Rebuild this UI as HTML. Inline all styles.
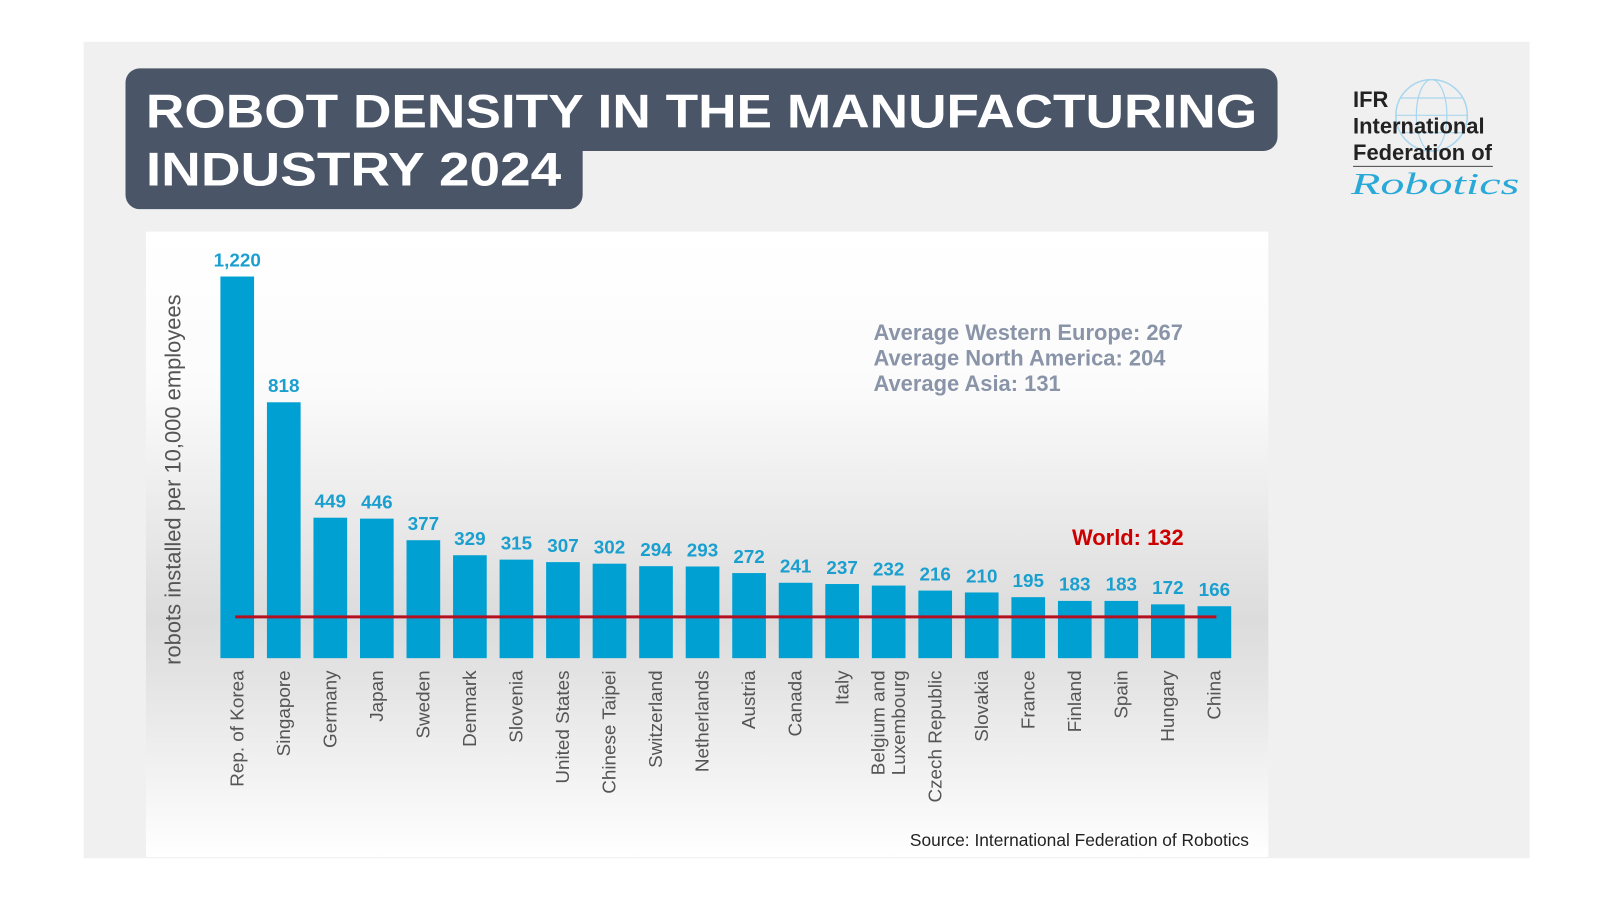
<!DOCTYPE html>
<html><head><meta charset="utf-8"><style>
body{margin:0;background:#fff;overflow:hidden;}
svg{display:block;font-family:"Liberation Sans",Arial,sans-serif;}
</style></head><body>
<svg width="1600" height="900" viewBox="0 0 1600 900">
<defs>
<linearGradient id="pg" x1="0" y1="0" x2="0" y2="1">
<stop offset="0" stop-color="#ffffff"/><stop offset="0.25" stop-color="#fbfbfb"/><stop offset="0.62" stop-color="#dcdcdc"/><stop offset="0.72" stop-color="#e4e4e4"/><stop offset="1" stop-color="#ffffff"/>
</linearGradient>
</defs>
<g transform="scale(1.0204)">
<rect x="82" y="41" width="1417" height="800" fill="#f0f0f0"/>
<g>
<rect x="123" y="67" width="1129" height="81" rx="14" fill="#4a5568"/>
<rect x="123" y="120" width="448" height="85" rx="14" fill="#4a5568"/>
<text x="143" y="125" font-size="46" font-weight="bold" fill="#fff" textLength="1089" lengthAdjust="spacingAndGlyphs">ROBOT DENSITY IN THE MANUFACTURING</text>
<text x="143" y="182" font-size="46" font-weight="bold" fill="#fff" textLength="407" lengthAdjust="spacingAndGlyphs">INDUSTRY 2024</text>
</g>
<g>
<circle cx="1403" cy="113" r="35" fill="none" stroke="#a9d6ee" stroke-width="1.5"/>
<ellipse cx="1403" cy="113" rx="15" ry="35" fill="none" stroke="#a9d6ee" stroke-width="1.2"/>
<line x1="1368" y1="113" x2="1438" y2="113" stroke="#a9d6ee" stroke-width="1.2"/>
<line x1="1372" y1="96" x2="1434" y2="96" stroke="#a9d6ee" stroke-width="1.2"/>
<line x1="1372" y1="130" x2="1434" y2="130" stroke="#a9d6ee" stroke-width="1.2"/>
<text x="1326" y="105" font-size="21.5" font-weight="bold" fill="#222">IFR</text>
<text x="1326" y="131" font-size="21.5" font-weight="bold" fill="#222">International</text>
<text x="1326" y="157" font-size="21.5" font-weight="bold" fill="#222">Federation of</text>
<line x1="1326" y1="163" x2="1463" y2="163" stroke="#444" stroke-width="1"/>
<text x="1324" y="190" font-size="30" font-style="italic" fill="#29a9d8" font-family="'Liberation Serif',serif" textLength="165" lengthAdjust="spacingAndGlyphs">Robotics</text>
</g>
<rect x="143" y="227" width="1100" height="613" fill="url(#pg)"/>
<text transform="translate(177,470) rotate(-90)" text-anchor="middle" font-size="21.5" fill="#555">robots installed per 10,000 employees</text>
<g fill="#8a94a8" font-size="21.5" font-weight="bold">
<text x="856" y="333">Average Western Europe: 267</text>
<text x="856" y="358">Average North America: 204</text>
<text x="856" y="383">Average Asia: 131</text>
</g>
<text x="1160" y="534" text-anchor="end" font-size="21.5" font-weight="bold" fill="#cc0000">World: 132</text>
<text x="1224" y="829" text-anchor="end" font-size="17" fill="#222">Source: International Federation of Robotics</text>
<g id="bars"></g>
<g id="labels"></g>
<line id="world" stroke="#b51020" stroke-width="3"/>
</g>
</svg>
<script>
const categories=["Rep. of Korea","Singapore","Germany","Japan","Sweden","Denmark","Slovenia","United States","Chinese Taipei","Switzerland","Netherlands","Austria","Canada","Italy","Belgium and|Luxembourg","Czech Republic","Slovakia","France","Finland","Spain","Hungary","China"];
const values=[1220,818,449,446,377,329,315,307,302,294,293,272,241,237,232,216,210,195,183,183,172,166];
const valueLabels=["1,220","818","449","446","377","329","315","307","302","294","293","272","241","237","232","216","210","195","183","183","172","166"];
const worldValue=132;
const NS="http://www.w3.org/2000/svg";
const baseY=645,scale=374/1220,x0=232.5,step=45.6,bw=33;
const yPos=v=>baseY-v*scale;
const xPos=i=>x0+i*step;
const bars=document.getElementById('bars'),labels=document.getElementById('labels');
categories.forEach((c,i)=>{
  const cx=xPos(i),y=yPos(values[i]);
  const r=document.createElementNS(NS,'rect');
  r.setAttribute('x',cx-bw/2);r.setAttribute('y',y);r.setAttribute('width',bw);r.setAttribute('height',baseY-y);r.setAttribute('fill','#00a0d2');
  
  
  bars.appendChild(r);
  const t=document.createElementNS(NS,'text');
  t.setAttribute('x',cx);t.setAttribute('y',y-10);t.setAttribute('text-anchor','middle');t.setAttribute('font-size','18.5');t.setAttribute('font-weight','bold');t.setAttribute('fill','#1a9fcf');
  t.textContent=valueLabels[i];
  
  
  labels.appendChild(t);
  const parts=c.split('|');
  parts.forEach((p,j)=>{
    const l=document.createElementNS(NS,'text');
    const lx=cx+6-(parts.length-1)*10+j*20;
    l.setAttribute('transform','translate('+lx+',657) rotate(-90)');
    l.setAttribute('text-anchor','end');l.setAttribute('font-size','18.5');l.setAttribute('fill','#555');
    l.textContent=p;
    
    
    labels.appendChild(l);
  });
});
const w=document.getElementById('world');
w.setAttribute('x1',xPos(0)-2);w.setAttribute('x2',xPos(categories.length-1)+2);
w.setAttribute('y1',yPos(worldValue));w.setAttribute('y2',yPos(worldValue));


</script>
</body></html>
